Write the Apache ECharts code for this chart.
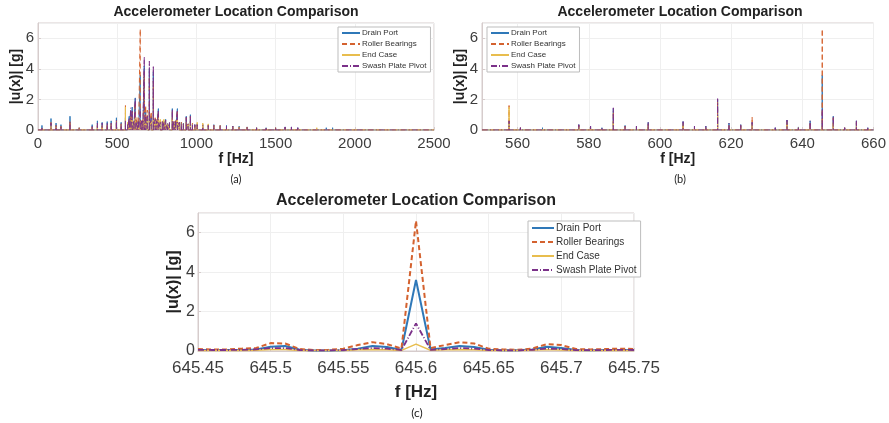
<!DOCTYPE html>
<html>
<head>
<meta charset="utf-8">
<script src="https://cdn.jsdelivr.net/npm/echarts@6/dist/echarts.min.js"></script>
<style>
  html, body { margin: 0; padding: 0; background: #fff; }
  #main { width: 889px; height: 423px; }
</style>
</head>
<body>
<div id="main"></div>
<script>
// legend names
const names = ['Drain Port', 'Roller Bearings', 'End Case', 'Swash Plate Pivot']

// (a) full spectrum 0 - 2500 Hz : peak frequencies + amplitudes per sensor
const aFreq = [25, 82, 114, 145, 202, 260, 300, 342, 375, 405, 437, 462, 495, 525, 552, 566, 576, 586, 595, 605,
  614, 625, 635, 645.6, 655, 662, 671, 680, 690, 703, 715, 728, 740, 750, 760, 772, 785, 795, 806, 818,
  830, 848, 858, 868, 880, 892, 905, 918, 936, 948, 962, 975, 990, 1005, 1040, 1075, 1110, 1150, 1190, 1230,
  1270, 1320, 1380, 1440, 1500, 1560, 1600, 1640, 1700, 1760, 1820, 1860, 1920, 1980, 2050, 2120, 2180, 2250, 2350, 2450]
const aDrain = [0.3, 0.75, 0.45, 0.35, 0.9, 0.15, 0.12, 0.35, 0.6, 0.5, 0.55, 0.6, 0.8, 0.5, 0.8, 0.3, 0.9, 1.2, 1.5, 0.4,
  2.1, 0.6, 0.6, 3.6, 0.6, 0.5, 4.2, 1.2, 0.8, 4.0, 0.9, 3.8, 0.7, 0.6, 1.4, 0.5, 0.5, 0.6, 0.7, 0.4,
  0.45, 1.4, 0.5, 0.6, 1.4, 0.45, 0.5, 0.45, 0.9, 0.4, 1.0, 0.4, 0.35, 0.4, 0.35, 0.3, 0.35, 0.3, 0.3, 0.25,
  0.25, 0.2, 0.15, 0.15, 0.15, 0.2, 0.2, 0.15, 0.12, 0.12, 0.15, 0.15, 0.1, 0.1, 0.08, 0.08, 0.1, 0.06, 0.05, 0.05]
const aRoller = [0.2, 0.5, 0.3, 0.25, 0.6, 0.15, 0.1, 0.25, 0.4, 0.35, 0.4, 0.45, 0.6, 0.4, 1.6, 0.4, 0.7, 1.0, 1.2, 0.5,
  1.8, 0.85, 0.65, 6.6, 0.6, 0.7, 3.8, 1.6, 1.3, 3.5, 1.2, 3.2, 0.8, 0.7, 1.2, 0.6, 0.5, 0.5, 0.6, 0.4,
  0.4, 1.2, 0.6, 0.6, 1.3, 0.5, 0.5, 0.4, 0.8, 0.4, 0.9, 0.45, 0.35, 0.45, 0.4, 0.35, 0.3, 0.3, 0.25, 0.25,
  0.2, 0.2, 0.15, 0.15, 0.15, 0.15, 0.15, 0.15, 0.1, 0.1, 0.12, 0.12, 0.1, 0.1, 0.08, 0.08, 0.1, 0.06, 0.05, 0.05]
const aEnd = [0.1, 0.3, 0.2, 0.15, 0.3, 0.1, 0.08, 0.2, 0.3, 0.3, 0.3, 0.35, 0.45, 0.35, 1.5, 0.5, 0.5, 0.6, 0.8, 0.4,
  1.0, 0.5, 0.4, 0.35, 0.4, 0.5, 1.0, 0.8, 0.6, 1.2, 0.6, 0.9, 0.6, 0.5, 0.8, 0.7, 0.6, 0.7, 0.5, 0.4,
  0.4, 0.8, 0.5, 0.5, 0.7, 0.4, 0.4, 0.4, 0.5, 0.35, 0.6, 0.4, 0.3, 0.5, 0.45, 0.4, 0.3, 0.25, 0.2, 0.2,
  0.2, 0.15, 0.15, 0.1, 0.1, 0.1, 0.1, 0.1, 0.08, 0.15, 0.1, 0.1, 0.08, 0.08, 0.06, 0.06, 0.06, 0.05, 0.04, 0.04]
const aSwash = [0.15, 0.45, 0.3, 0.25, 0.5, 0.12, 0.1, 0.3, 0.45, 0.45, 0.5, 0.5, 0.65, 0.45, 0.6, 0.35, 0.8, 1.45, 1.3, 0.55,
  2.05, 0.5, 0.6, 1.4, 0.6, 0.6, 4.8, 1.0, 0.9, 4.5, 0.8, 4.2, 0.7, 0.6, 1.3, 0.5, 0.55, 0.5, 0.65, 0.45,
  0.5, 1.35, 0.55, 0.55, 1.3, 0.5, 0.45, 0.4, 0.85, 0.4, 0.95, 0.4, 0.35, 0.35, 0.3, 0.3, 0.3, 0.3, 0.25, 0.25,
  0.2, 0.2, 0.15, 0.15, 0.15, 0.2, 0.2, 0.15, 0.1, 0.1, 0.12, 0.12, 0.1, 0.08, 0.08, 0.08, 0.1, 0.06, 0.05, 0.05]

// (b) zoom 550 - 660 Hz
const bFreq = [552, 554.5, 557.6, 560.8, 564, 567, 570.5, 574, 577.2, 580.5, 583.7, 586.9, 590.2, 593.4, 596.7, 600, 603.2,
  606.5, 609.7, 612.9, 616.2, 619.4, 622.7, 625.9, 629.2, 632.4, 635.7, 638.9, 642.2, 645.6, 648.7, 651.9, 655.2, 658.4]
const bDrain = [0.08, 0.1, 0.6, 0.15, 0.1, 0.15, 0.08, 0.1, 0.35, 0.25, 0.15, 1.4, 0.3, 0.25, 0.5, 0.1, 0.12,
  0.55, 0.25, 0.25, 2.0, 0.45, 0.35, 0.5, 0.1, 0.15, 0.65, 0.2, 0.6, 3.6, 0.9, 0.15, 0.6, 0.15]
const bRoller = [0.08, 0.1, 1.6, 0.15, 0.1, 0.12, 0.08, 0.1, 0.3, 0.2, 0.15, 1.2, 0.25, 0.2, 0.4, 0.1, 0.1,
  0.45, 0.2, 0.2, 1.8, 0.35, 0.3, 0.85, 0.1, 0.12, 0.55, 0.2, 0.5, 6.6, 0.8, 0.15, 0.5, 0.15]
const bEnd = [0.06, 0.08, 1.5, 0.12, 0.08, 0.1, 0.06, 0.08, 0.2, 0.15, 0.1, 0.6, 0.2, 0.15, 0.3, 0.08, 0.08,
  0.3, 0.15, 0.15, 1.0, 0.25, 0.2, 0.4, 0.08, 0.1, 0.35, 0.15, 0.3, 0.35, 0.5, 0.1, 0.3, 0.1]
const bSwash = [0.08, 0.1, 0.6, 0.15, 0.1, 0.12, 0.08, 0.1, 0.35, 0.25, 0.15, 1.45, 0.3, 0.25, 0.5, 0.1, 0.1,
  0.55, 0.25, 0.25, 2.05, 0.45, 0.35, 0.5, 0.1, 0.15, 0.65, 0.2, 0.6, 1.4, 0.9, 0.15, 0.6, 0.15]

// (c) zoom around the 645.6 Hz line
const cFreq = [645.45, 645.46, 645.47, 645.48, 645.49, 645.50, 645.51, 645.52, 645.53, 645.54, 645.55,
  645.56, 645.57, 645.58, 645.59, 645.60, 645.61, 645.62, 645.63, 645.64, 645.65,
  645.66, 645.67, 645.68, 645.69, 645.70, 645.71, 645.72, 645.73, 645.74, 645.75]
const cDrain = [0.05, 0.05, 0.05, 0.05, 0.08, 0.22, 0.25, 0.06, 0.03, 0.03, 0.04, 0.12, 0.25, 0.2, 0.05, 3.6,
  0.08, 0.15, 0.25, 0.2, 0.06, 0.04, 0.04, 0.08, 0.22, 0.15, 0.05, 0.04, 0.05, 0.05, 0.05]
const cRoller = [0.1, 0.08, 0.08, 0.12, 0.15, 0.4, 0.38, 0.1, 0.05, 0.06, 0.12, 0.3, 0.45, 0.35, 0.12, 6.6,
  0.15, 0.3, 0.45, 0.38, 0.12, 0.08, 0.06, 0.12, 0.35, 0.3, 0.1, 0.08, 0.1, 0.12, 0.1]
const cEnd = [0.03, 0.03, 0.03, 0.03, 0.04, 0.08, 0.08, 0.03, 0.02, 0.02, 0.03, 0.06, 0.08, 0.06, 0.03, 0.35,
  0.04, 0.06, 0.08, 0.06, 0.03, 0.02, 0.02, 0.04, 0.07, 0.05, 0.03, 0.02, 0.03, 0.03, 0.03]
const cSwash = [0.06, 0.05, 0.05, 0.06, 0.08, 0.15, 0.15, 0.05, 0.03, 0.03, 0.05, 0.1, 0.15, 0.12, 0.05, 1.4,
  0.06, 0.1, 0.15, 0.12, 0.05, 0.03, 0.03, 0.06, 0.12, 0.1, 0.04, 0.04, 0.05, 0.06, 0.05]

// MATLAB-like line colours / styles
const colors = ['#2f78b8', '#d4622f', '#e8bd4e', '#7b3189']
const dashes = ['solid', [5, 3], 'solid', [6, 2, 1, 2]]
const frame = '#d6cccc'
const font = "'Liberation Sans', Arial, sans-serif"

// spectral lines -> vertical spikes on a zero baseline
function spikes(freq, amp, lo, hi) {
  const pts = [[lo, 0]]
  freq.forEach((f, i) => {
    pts.push([f, 0], [f, amp[i]], [f, 0])
  })
  pts.push([hi, 0])
  return pts
}

function xAxis(idx, min, max, fs, nameFs, gap, margin, extra) {
  return Object.assign({
    gridIndex: idx, type: 'value', min, max,
    name: 'f [Hz]', nameLocation: 'middle', nameGap: gap,
    nameTextStyle: { fontFamily: font, fontWeight: 'bold', fontSize: nameFs, color: '#222' },
    axisLine: { show: true, onZero: false, lineStyle: { color: frame } },
    axisTick: { show: true, inside: true, length: 3, lineStyle: { color: frame } },
    axisLabel: { fontFamily: font, fontSize: fs, color: '#3c3c3c', margin, formatter: v => String(+v.toFixed(2)) },
    splitLine: { show: true, lineStyle: { color: '#efefef' } }
  }, extra)
}

function yAxis(idx, fs, nameFs, gap, margin) {
  return {
    gridIndex: idx, type: 'value', min: 0, max: 7, interval: 2,
    name: '|u(x)| [g]', nameLocation: 'middle', nameGap: gap, nameMoveOverlap: false,
    nameTextStyle: { fontFamily: font, fontWeight: 'bold', fontSize: nameFs, color: '#222' },
    axisLine: { show: true, lineStyle: { color: frame } },
    axisTick: { show: true, inside: true, length: 3, lineStyle: { color: frame } },
    axisLabel: { fontFamily: font, fontSize: fs, color: '#3c3c3c', margin, showMaxLabel: false },
    splitLine: { show: true, lineStyle: { color: '#efefef' } }
  }
}

function legend(left, top, fs, w, gap) {
  return {
    left, top, orient: 'vertical', data: names, selectedMode: false,
    itemWidth: w, itemHeight: fs, itemGap: gap, padding: [2, 4, 2, 3],
    itemStyle: { opacity: 0 },
    backgroundColor: '#fff', borderColor: '#bdbdbd', borderWidth: 1,
    textStyle: { fontFamily: font, fontSize: fs, color: '#333', padding: [0, 0, 0, -3] }
  }
}

const panels = [
  { lo: 0, hi: 2500, sets: [aDrain, aRoller, aEnd, aSwash], freq: aFreq, width: 1 },
  { lo: 550, hi: 660, sets: [bDrain, bRoller, bEnd, bSwash], freq: bFreq, width: 1 }
]

const series = []
panels.forEach((p, gi) => {
  p.sets.forEach((amp, k) => {
    series.push({
      name: names[k], type: 'line', xAxisIndex: gi, yAxisIndex: gi,
      data: spikes(p.freq, amp, p.lo, p.hi), symbol: 'none',
      lineStyle: { color: colors[k], width: p.width, type: dashes[k] },
      itemStyle: { color: colors[k] }
    })
  })
})
const cWidths = [2, 2, 1.5, 1.8];
[cDrain, cRoller, cEnd, cSwash].forEach((amp, k) => {
  series.push({
    name: names[k], type: 'line', xAxisIndex: 2, yAxisIndex: 2,
    data: cFreq.map((f, i) => [f, amp[i]]), symbol: 'none',
    lineStyle: { color: colors[k], width: cWidths[k], type: dashes[k] },
    itemStyle: { color: colors[k] }
  })
})

function text(x, y, str, size, weight, fam) {
  return {
    type: 'text', x, y,
    style: { text: str, fontFamily: fam || font, fontSize: size, fontWeight: weight, fill: '#222', textAlign: 'center', textVerticalAlign: 'middle' }
  }
}

const myChart = echarts.init(document.querySelector('#main'))
const option = {
  animation: false,
  backgroundColor: '#fff',
  grid: [
    { left: 38, top: 23, width: 396, height: 107, show: true, borderColor: frame, borderWidth: 1 },
    { left: 482, top: 23, width: 396, height: 107, show: true, borderColor: frame, borderWidth: 1 },
    { left: 198, top: 213, width: 436, height: 138, show: true, borderColor: frame, borderWidth: 1 }
  ],
  xAxis: [
    xAxis(0, 0, 2500, 15, 14, 19, 6, { interval: 500 }),
    xAxis(1, 550, 660, 15, 14, 19, 6, { splitNumber: 5 }),
    xAxis(2, 645.45, 645.75, 17, 17, 33, 9, { splitNumber: 6 })
  ],
  yAxis: [yAxis(0, 15, 14, 15, 4), yAxis(1, 15, 14, 15, 4), yAxis(2, 16, 16, 16, 3)],
  legend: [
    legend(338, 27, 8, 18, 3),
    legend(487, 27, 8, 18, 3),
    legend(528, 221, 10, 22, 4)
  ],
  graphic: [
    text(236, 12, 'Accelerometer Location Comparison', 14, 'bold'),
    text(680, 12, 'Accelerometer Location Comparison', 14, 'bold'),
    text(416, 201, 'Accelerometer Location Comparison', 16, 'bold'),
    text(236, 179, '(a)', 11, 'normal', 'Lato'),
    text(680, 179, '(b)', 11, 'normal', 'Lato'),
    text(417, 413, '(c)', 12, 'normal', 'Lato')
  ],
  series
}
// hide the 550 label of panel (b) (the reference starts its labels at 560)
option.xAxis[1].axisLabel.showMinLabel = false
myChart.setOption(option)
</script>
</body>
</html>
